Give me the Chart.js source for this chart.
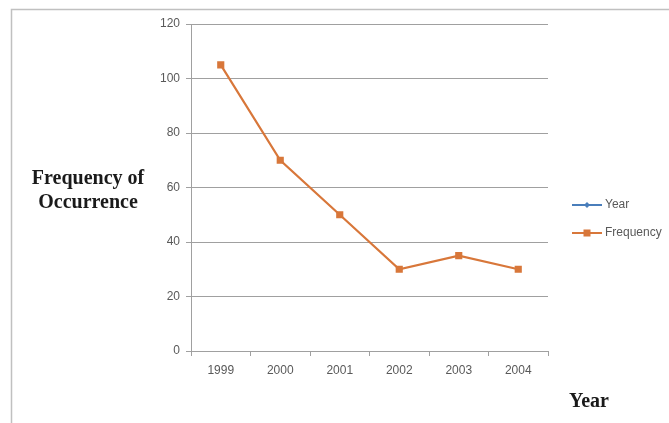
<!DOCTYPE html>
<html>
<head>
<meta charset="utf-8">
<script src="https://cdn.jsdelivr.net/npm/chart.js@4"></script>
<style>
  html, body { margin: 0; padding: 0; background: #fff; }
  #wrap { width: 669px; height: 423px; }
</style>
</head>
<body>
<div id="wrap"><canvas id="chart" width="669" height="423"></canvas></div>
<script>
const years = ['1999', '2000', '2001', '2002', '2003', '2004'];
const frequency = [105, 70, 50, 30, 35, 30];
const yearSeries = [null, null, null, null, null, null]; // nothing of it shows in the plot
const yTicks = [0, 20, 40, 60, 80, 100, 120];

const ORANGE = '#D8773A';
const BLUE = '#4A7EBB';
const GREY_TEXT = '#595959';
const GRID = '#A0A0A0';

// frame, axis titles and legend are drawn by hand
const extras = {
  id: 'extras',
  afterDraw(chart) {
    const ctx = chart.ctx;
    ctx.save();

    // outer frame (top + left only)
    ctx.strokeStyle = '#C0C0C0';
    ctx.lineWidth = 1.5;
    ctx.beginPath();
    ctx.moveTo(669, 9.5);
    ctx.lineTo(11.5, 9.5);
    ctx.lineTo(11.5, 423);
    ctx.stroke();

    // axis titles
    ctx.fillStyle = '#1a1a1a';
    ctx.font = 'bold 20px "Liberation Serif", serif';
    ctx.textAlign = 'center';
    ctx.textBaseline = 'alphabetic';
    ctx.fillText('Frequency of', 88, 184);
    ctx.fillText('Occurrence', 88, 208);
    ctx.textAlign = 'left';
    ctx.fillText('Year', 569, 407);

    // legend
    const items = [
      { label: 'Year', color: BLUE, style: 'diamond', y: 205 },
      { label: 'Frequency', color: ORANGE, style: 'rect', y: 233 }
    ];
    ctx.font = '12px "Liberation Sans", sans-serif';
    ctx.textBaseline = 'middle';
    items.forEach(it => {
      ctx.strokeStyle = it.color;
      ctx.lineWidth = 2;
      ctx.beginPath();
      ctx.moveTo(572, it.y);
      ctx.lineTo(602, it.y);
      ctx.stroke();
      ctx.fillStyle = it.color;
      if (it.style === 'rect') {
        ctx.fillRect(583.5, it.y - 3.5, 7, 7);
      } else {
        ctx.beginPath();
        ctx.moveTo(587, it.y - 3);
        ctx.lineTo(590, it.y);
        ctx.lineTo(587, it.y + 3);
        ctx.lineTo(584, it.y);
        ctx.closePath();
        ctx.fill();
      }
      ctx.fillStyle = GREY_TEXT;
      ctx.fillText(it.label, 605, it.y);
    });

    ctx.restore();
  }
};

new Chart(document.getElementById('chart'), {
  type: 'line',
  data: {
    labels: years,
    datasets: [
      {
        label: 'Year',
        data: yearSeries,
        borderColor: BLUE,
        backgroundColor: BLUE,
        borderWidth: 2,
        pointStyle: 'rectRot',
        pointRadius: 3
      },
      {
        label: 'Frequency',
        data: frequency,
        borderColor: ORANGE,
        backgroundColor: ORANGE,
        borderWidth: 2.2,
        pointStyle: 'rect',
        pointRadius: 3.5,
        tension: 0
      }
    ]
  },
  options: {
    responsive: false,
    animation: false,
    layout: { padding: { left: 141, right: 121, top: 24, bottom: 0 } },
    plugins: {
      legend: { display: false },
      tooltip: { enabled: false }
    },
    scales: {
      x: {
        offset: true,
        grid: {
          offset: true,
          drawOnChartArea: false,
          drawTicks: true,
          tickLength: 5,
          color: GRID
        },
        border: { color: GRID, width: 1 },
        ticks: {
          color: GREY_TEXT,
          font: { family: '"Liberation Sans", sans-serif', size: 12 },
          padding: 7,
          maxRotation: 0
        },
        afterFit(scale) { scale.height = 72; }
      },
      y: {
        min: 0,
        max: 120,
        afterBuildTicks(scale) { scale.ticks = yTicks.map(v => ({ value: v })); },
        grid: {
          color: GRID,
          tickLength: 5,
          drawTicks: true
        },
        border: { color: GRID, width: 1 },
        ticks: {
          color: GREY_TEXT,
          font: { family: '"Liberation Sans", sans-serif', size: 12 },
          padding: 6
        },
        afterFit(scale) { scale.width = 50; }
      }
    }
  },
  plugins: [extras]
});
</script>
</body>
</html>
